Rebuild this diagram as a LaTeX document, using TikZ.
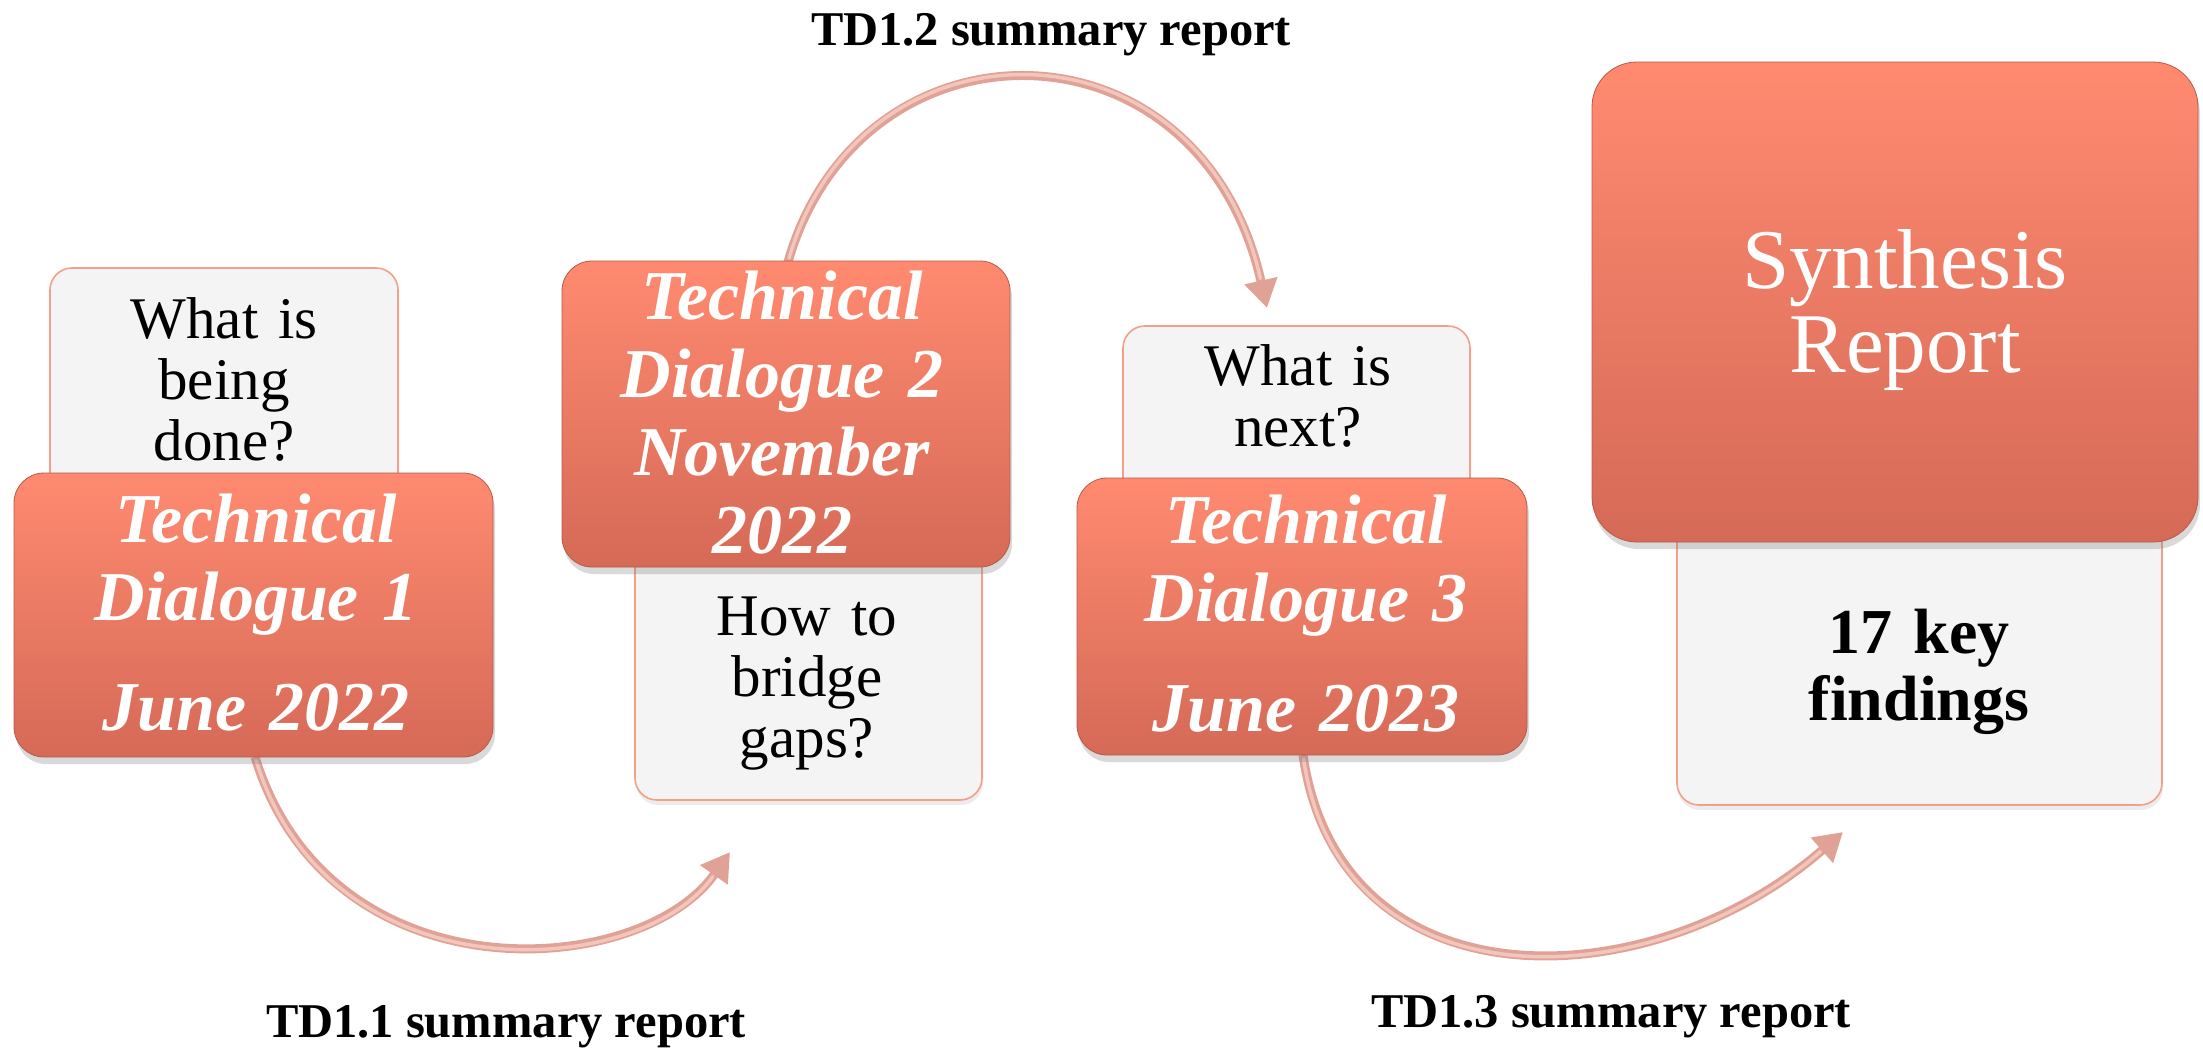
\documentclass[tikz,border=0pt]{standalone}
\usepackage{fontspec}
\setmainfont{Liberation Serif}
\usetikzlibrary{arrows.meta,shadows}
\definecolor{otop}{HTML}{FF8A70}
\definecolor{obot}{HTML}{D56A57}
\definecolor{wfill}{HTML}{F4F4F4}
\definecolor{wline}{HTML}{F4A089}
\definecolor{arr}{HTML}{E0A297}
\definecolor{arrhi}{HTML}{F3C6BC}
\begin{document}
\begin{tikzpicture}[x=1pt,y=-1pt,
  obox/.style={rectangle, rounded corners=30pt, top color=otop, bottom color=obot,
    draw=obot!85!black, line width=0.8pt, inner sep=0pt,
    drop shadow={shadow xshift=2pt, shadow yshift=-7pt, opacity=0.3}},
  wbox/.style={rectangle, rounded corners=22pt, fill=wfill, draw=wline, line width=1.6pt,
    inner sep=0pt, drop shadow={shadow xshift=1pt, shadow yshift=-5pt, opacity=0.15}},
  otext/.style={anchor=base, align=center, inner sep=0pt, text width=440pt, text=white,
    font=\fontsize{70pt}{78pt}\selectfont\bfseries\itshape},
  qtext/.style={anchor=base, align=center, inner sep=0pt, text width=330pt,
    font=\fontsize{59pt}{61pt}\selectfont},
  lbl/.style={anchor=base, inner sep=0pt, font=\fontsize{48.5pt}{52pt}\selectfont\bfseries},
  conn/.style={draw=arr, line width=9pt, -{Triangle[length=28pt,width=32pt]}},
  connhi/.style={draw=arrhi, line width=3.5pt, line cap=round}
]
\useasboundingbox (0,0) rectangle (2203,1050);

% white question boxes
\node[wbox, minimum width=348pt, minimum height=240pt] (w1) at (224,388) {};
\node[wbox, minimum width=347pt, minimum height=280pt] (w2) at (808.5,660) {};
\node[wbox, minimum width=347pt, minimum height=180pt] (w3) at (1296.5,416) {};
\node[wbox, minimum width=485pt, minimum height=290pt] (w4) at (1919.5,660) {};

% arrow end points
\coordinate (e1) at (730,852);
\coordinate (e2) at (1267,308);
\coordinate (e3) at (1843,832);
\coordinate (s1) at (255,757);
\coordinate (s2) at (788,262);
\coordinate (s3) at (1303,755);

% connectors
\draw[conn] (s1) .. controls +(75,243) and +(-90,128) .. (e1);
\draw[connhi, shorten >=30pt, shorten <=4pt] (s1) .. controls +(75,243) and +(-90,128) .. (e1);
\draw[conn] (s2) .. controls +(72,-252) and +(-67,-298) .. (e2);
\draw[connhi, shorten >=30pt, shorten <=4pt] (s2) .. controls +(72,-252) and +(-67,-298) .. (e2);
\draw[conn] (s3) .. controls +(37,255) and +(-193,168) .. (e3);
\draw[connhi, shorten >=30pt, shorten <=4pt] (s3) .. controls +(37,255) and +(-193,168) .. (e3);

% orange boxes
\node[obox, minimum width=479pt, minimum height=284pt] (o1) at (253.5,615) {};
\node[obox, minimum width=448pt, minimum height=306pt] (o2) at (786,414) {};
\node[obox, minimum width=450pt, minimum height=277pt] (o3) at (1302,616.5) {};
\node[obox, rounded corners=45pt, minimum width=606pt, minimum height=480pt] (o4) at (1895,302) {};

% texts
\node[qtext] (t1) at (224,338) {What is\\being\\done?};
\node[qtext] (t2) at (807,635) {How to\\bridge\\gaps?};
\node[qtext] (t3) at (1298,385) {What is\\next?};
\node[anchor=base, align=center, inner sep=0pt, text width=440pt,
  font=\fontsize{64pt}{67pt}\selectfont\bfseries] (t4) at (1919,653) {17 key\\findings};

\node[otext] (ot1) at (256,542) {Technical\\Dialogue 1\\[32pt]June 2022};
\node[otext] (ot2) at (782,319) {Technical\\Dialogue 2\\November\\2022};
\node[otext] (ot3) at (1306,543) {Technical\\Dialogue 3\\[32pt]June 2023};
\node[anchor=base, align=center, inner sep=0pt, text width=560pt, text=white,
  font=\fontsize{85pt}{84pt}\selectfont] (ot4) at (1905,288) {Synthesis\\Report};

\node[lbl] (l1) at (506,1037) {TD1.1 summary report};
\node[lbl] (l2) at (1051,45) {TD1.2 summary report};
\node[lbl] (l3) at (1611,1027) {TD1.3 summary report};
\end{tikzpicture}
\end{document}
